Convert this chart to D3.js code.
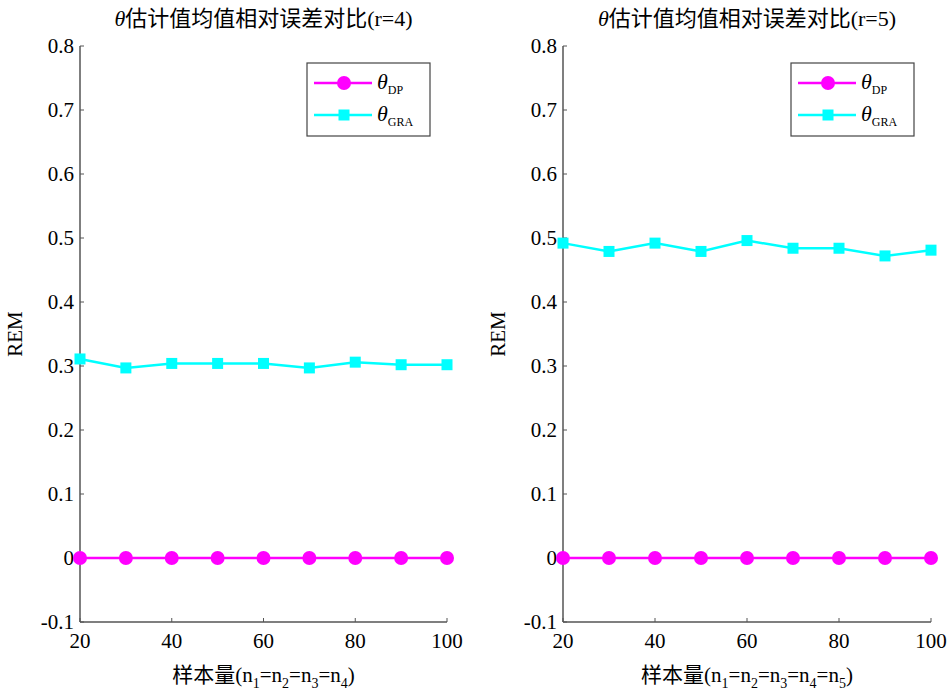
<!DOCTYPE html>
<html>
<head>
<meta charset="utf-8">
<script src="https://cdn.jsdelivr.net/npm/d3@7"></script>
<style>
  body { margin: 0; background: #fff; }
  svg text { font-family: "Liberation Serif", "Times New Roman", "Noto Sans CJK SC", serif; fill: #000; }
</style>
</head>
<body>
<svg width="949" height="695"></svg>
<script>
// sample sizes
var sizes = [20, 30, 40, 50, 60, 70, 80, 90, 100];
var xTicks = [20, 40, 60, 80, 100];
var yTicks = [-0.1, 0, 0.1, 0.2, 0.3, 0.4, 0.5, 0.6, 0.7, 0.8];
var yTickLabels = ['-0.1', '0', '0.1', '0.2', '0.3', '0.4', '0.5', '0.6', '0.7', '0.8'];

// r=4
var dp4  = [0, 0, 0, 0, 0, 0, 0, 0, 0];
var gra4 = [0.311, 0.297, 0.304, 0.304, 0.304, 0.297, 0.306, 0.302, 0.302];
// r=5
var dp5  = [0, 0, 0, 0, 0, 0, 0, 0, 0];
var gra5 = [0.492, 0.479, 0.492, 0.479, 0.496, 0.484, 0.484, 0.472, 0.481];

var titles = ["估计值均值相对误差对比(r=4)", "估计值均值相对误差对比(r=5)"];
var xSubs = [[1, 2, 3, 4], [1, 2, 3, 4, 5]];

var svg = d3.select('svg');
var axisColor = '#555';

function panel(left, right, dp, gra, title, subs){
	var x = d3.scaleLinear().domain([20, 100]).range([left, right]);
	var y = d3.scaleLinear().domain([-0.1, 0.8]).range([622, 46]);
	var g = svg.append('g');

	// axes lines (left + bottom only)
	g.append('line').attr('x1', left).attr('x2', left).attr('y1', y(0.8)).attr('y2', y(-0.1))
		.attr('stroke', axisColor).attr('stroke-width', 1.5);
	g.append('line').attr('x1', left).attr('x2', right).attr('y1', y(-0.1)).attr('y2', y(-0.1))
		.attr('stroke', axisColor).attr('stroke-width', 1.5);

	// y ticks
	yTicks.forEach(function(t, i){
		g.append('line').attr('x1', left).attr('x2', left + 4).attr('y1', y(t)).attr('y2', y(t))
			.attr('stroke', axisColor).attr('stroke-width', 1);
		g.append('text').attr('x', left - 6).attr('y', y(t) + 7)
			.attr('text-anchor', 'end').style('font-size', '21px')
			.text(yTickLabels[i]);
	});
	// x ticks
	xTicks.forEach(function(t){
		g.append('line').attr('x1', x(t)).attr('x2', x(t)).attr('y1', y(-0.1)).attr('y2', y(-0.1) - 4)
			.attr('stroke', axisColor).attr('stroke-width', 1);
		g.append('text').attr('x', x(t)).attr('y', y(-0.1) + 26)
			.attr('text-anchor', 'middle').style('font-size', '21px').text(t);
	});

	// lines
	var line = d3.line().x(function(d, i){ return x(sizes[i]); }).y(function(d){ return y(d); });
	g.append('path').datum(gra).attr('d', line).attr('fill', 'none')
		.attr('stroke', '#00ffff').attr('stroke-width', 2.5);
	g.append('path').datum(dp).attr('d', line).attr('fill', 'none')
		.attr('stroke', '#ff00ff').attr('stroke-width', 2.5);

	g.selectAll('rect.gra').data(gra).enter().append('rect')
		.attr('x', function(d, i){ return x(sizes[i]) - 5.5; })
		.attr('y', function(d){ return y(d) - 5.5; })
		.attr('width', 11).attr('height', 11).attr('fill', '#00ffff');
	g.selectAll('circle.dp').data(dp).enter().append('circle')
		.attr('cx', function(d, i){ return x(sizes[i]); })
		.attr('cy', function(d){ return y(d); })
		.attr('r', 7).attr('fill', '#ff00ff');

	// title
	var tt = g.append('text').attr('x', (left + right) / 2).attr('y', 26)
		.attr('text-anchor', 'middle').style('font-size', '22px');
	tt.append('tspan').style('font-style', 'italic').text('θ');
	tt.append('tspan').text(title);

	// y label
	g.append('text').attr('transform', 'translate(' + (left - 58) + ',' + y(0.35) + ') rotate(-90)')
		.attr('text-anchor', 'middle').style('font-size', '21px').text('REM');

	// x label
	var xl = g.append('text').attr('x', (left + right) / 2).attr('y', 682)
		.attr('text-anchor', 'middle').style('font-size', '21px');
	xl.append('tspan').text('样本量(n');
	subs.forEach(function(s, i){
		xl.append('tspan').attr('dy', 6).style('font-size', '14px').text(s);
		xl.append('tspan').attr('dy', -6).text(i < subs.length - 1 ? '=n' : ')');
	});

	// legend
	var lx = right - 140, ly = 63, lw = 123, lh = 73;
	var lg = g.append('g');
	lg.append('rect').attr('x', lx).attr('y', ly).attr('width', lw).attr('height', lh)
		.attr('fill', '#fff').attr('stroke', '#444').attr('stroke-width', 1.2);
	var items = [{c: '#ff00ff', s: 'DP', m: 'circle'}, {c: '#00ffff', s: 'GRA', m: 'rect'}];
	items.forEach(function(it, i){
		var yy = ly + 20 + i * 32;
		lg.append('line').attr('x1', lx + 7).attr('x2', lx + 65).attr('y1', yy).attr('y2', yy)
			.attr('stroke', it.c).attr('stroke-width', 2.5);
		if (it.m === 'circle') {
			lg.append('circle').attr('cx', lx + 37).attr('cy', yy).attr('r', 7).attr('fill', it.c);
		} else {
			lg.append('rect').attr('x', lx + 31.5).attr('y', yy - 5.5).attr('width', 11).attr('height', 11).attr('fill', it.c);
		}
		var t = lg.append('text').attr('x', lx + 70).attr('y', yy + 6).style('font-size', '22px');
		t.append('tspan').style('font-style', 'italic').text('θ');
		t.append('tspan').attr('dy', 5).style('font-size', '12px').text(it.s);
	});
}

panel(80, 447, dp4, gra4, titles[0], xSubs[0]);
panel(563, 931, dp5, gra5, titles[1], xSubs[1]);
</script>
</body>
</html>
